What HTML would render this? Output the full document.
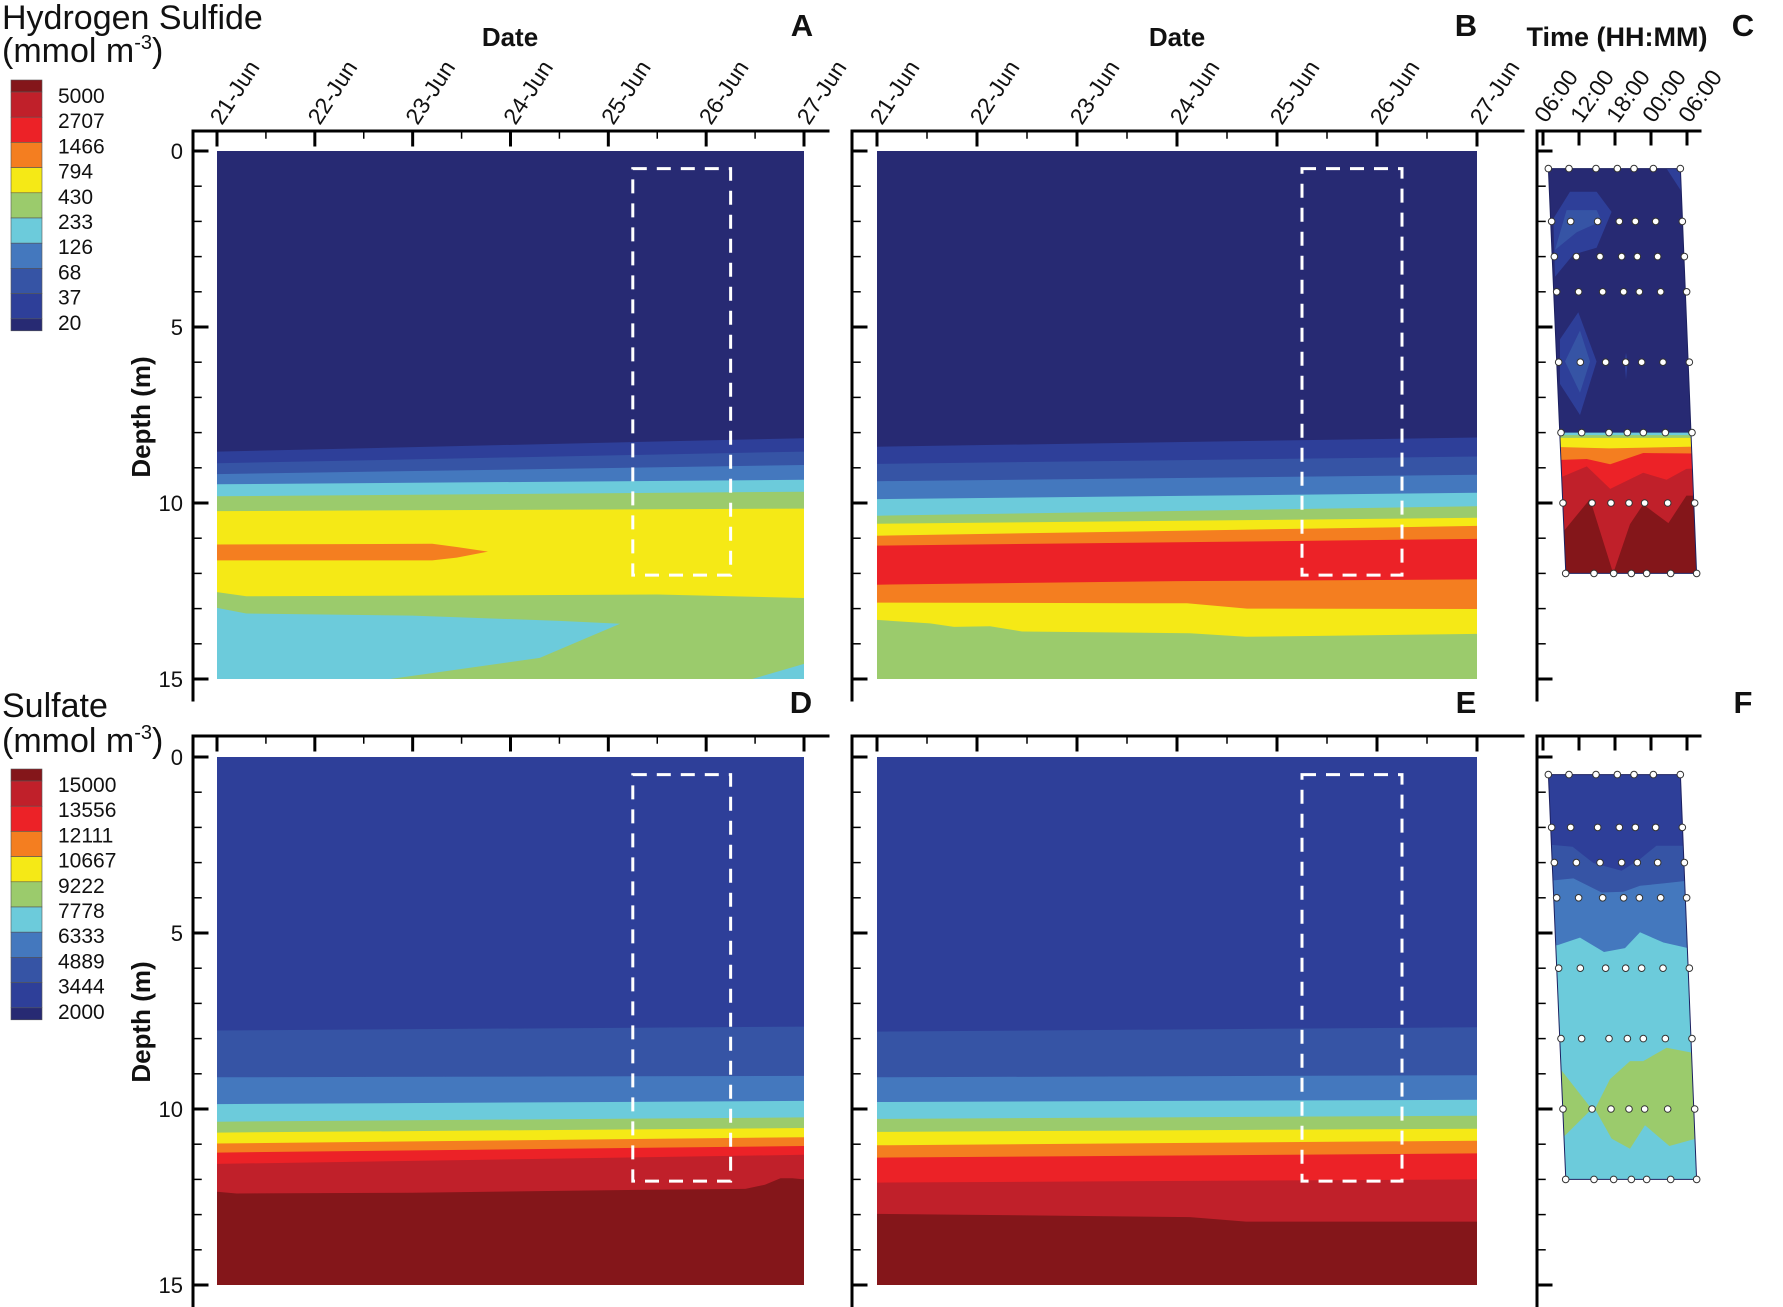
<!DOCTYPE html>
<html><head><meta charset="utf-8"><style>
body{margin:0;background:#fff}
svg{display:block}
text{font-family:"Liberation Sans",Arial,sans-serif;fill:#111}
</style></head><body>
<svg id="fig" width="1783" height="1307" viewBox="0 0 1783 1307" xmlns="http://www.w3.org/2000/svg">
<g id="legends">
<text x="2" y="29" font-size="34">Hydrogen Sulfide</text>
<text x="2" y="62" font-size="34">(mmol m<tspan font-size="20" dy="-13">-3</tspan><tspan dy="13">)</tspan></text>
<text x="2" y="717" font-size="34">Sulfate</text>
<text x="2" y="752" font-size="34">(mmol m<tspan font-size="20" dy="-13">-3</tspan><tspan dy="13">)</tspan></text>
</g>
<g id="plots"></g>
<g id="axes"></g>
</svg>
<script>
// ---------- data ----------
const dateLabels=["21-Jun","22-Jun","23-Jun","24-Jun","25-Jun","26-Jun","27-Jun"];
const timeLabels=["06:00","12:00","18:00","00:00","06:00"];
const depthLabels=[0,5,10,15];
const h2sLevels=["5000","2707","1466","794","430","233","126","68","37","20"];
const so4Levels=["15000","13556","12111","10667","9222","7778","6333","4889","3444","2000"];
const colorScale=["#84161a","#c0202a","#ec2227","#f47e20","#f5e916","#9bcb6c","#6ccbdb","#4478be","#3654a5","#2e3f99","#272a73"];
const aBounds=[
 [[0,8.54],[6,8.16]],[[0,8.87],[6,8.54]],[[0,9.18],[6,8.92]],[[0,9.47],[6,9.34]],
 [[0,9.81],[6,9.68]],[[0,10.23],[6,10.16]],[[0,12.53],[0.3,12.65],[3,12.62],[4.5,12.6],[6,12.7]]];
const aColors=["#272a73","#2e3f99","#3654a5","#4478be","#6ccbdb","#9bcb6c","#f5e916","#9bcb6c"];
const aCyanWedge=[[0,12.98],[0.3,13.14],[2,13.2],[3.5,13.35],[4.12,13.43],[3.3,14.4],[1.77,15],[0,15]];
const aCyanCorner=[[5.47,15],[6,14.57],[6,15]];
const aOrangeBlob=[[0,11.18],[2.2,11.16],[2.45,11.25],[2.77,11.38],[2.45,11.55],[2.2,11.63],[0,11.63]];
const bBounds=[
 [[0,8.40],[6,8.14]],[[0,8.89],[6,8.68]],[[0,9.38],[6,9.2]],[[0,9.89],[6,9.71]],
 [[0,10.36],[6,10.09]],[[0,10.59],[6,10.42]],[[0,10.93],[6,10.65]],[[0,11.21],[6,11.02]],
 [[0,12.32],[3,12.22],[6,12.17]],[[0,12.83],[3.1,12.85],[3.7,13.0],[6,13.01]],
 [[0,13.32],[0.53,13.42],[0.77,13.52],[1.13,13.5],[1.45,13.65],[3.13,13.7],[3.69,13.8],[6,13.72]]];
const bColors=["#272a73","#2e3f99","#3654a5","#4478be","#6ccbdb","#9bcb6c","#f5e916","#f47e20","#ec2227","#f47e20","#f5e916","#9bcb6c"];
const dBounds=[
 [[0,7.77],[6,7.66]],[[0,9.1],[6,9.06]],[[0,9.86],[6,9.77]],[[0,10.36],[6,10.24]],
 [[0,10.67],[6,10.54]],[[0,10.98],[6,10.8]],[[0,11.24],[6,11.05]],[[0,11.56],[6,11.3]],
 [[0,12.35],[0.2,12.4],[2,12.38],[4.2,12.3],[5.4,12.27],[5.6,12.15],[5.76,11.97],[5.88,11.97],[6,12.0]]];
const eBounds=[
 [[0,7.8],[6,7.68]],[[0,9.1],[6,9.04]],[[0,9.8],[6,9.74]],[[0,10.28],[6,10.19]],
 [[0,10.65],[6,10.56]],[[0,11.03],[6,10.9]],[[0,11.38],[6,11.26]],[[0,12.09],[6,12.0]],
 [[0,12.98],[0.73,13.0],[3.13,13.07],[3.69,13.2],[6,13.2]]];
const deColors=["#2e3f99","#3654a5","#4478be","#6ccbdb","#9bcb6c","#f5e916","#f47e20","#ec2227","#c0202a","#84161a"];
const boxDays=[4.25,5.25]; const boxDepths=[0.5,12.05];
const castRegion=[[0.9,0.5],[22.9,0.5],[25.6,12],[3.8,12]];
const sampleDepths=[0.5,2,3,4,6,8,10,12];
const sampleHours=[
 [0.89,4.33,8.83,12.39,15.17,18.39,22.89],[1.44,4.61,9.11,12.72,15.39,18.78,23.22],
 [1.89,5.56,9.5,13.11,15.72,19.11,23.56],[2.28,5.94,9.94,13.44,16.06,19.61,23.94],
 [2.61,6.22,10.44,13.78,16.44,20,24.39],[3,6.44,11,14.06,16.72,20.39,24.83],
 [3.33,8.17,11.33,14.33,16.94,20.78,25.28],[3.78,8.5,11.78,14.72,17.28,21.28,25.61]];
const cPatchOuter=[[1.72,1.92],[4.5,1.16],[8.94,1.16],[11.44,1.73],[8.94,2.75],[5.06,2.94],[2.0,3.57]];
const cPatchInner=[[3.94,1.68],[8.94,1.68],[9.78,1.99],[5.61,2.31],[2.0,2.81]];
const cDiamondOuter=[[2.83,5.35],[5.89,4.58],[8.94,5.98],[6.17,7.5],[2.83,6.62]];
const cDiamondInner=[[3.67,5.98],[6.17,5.1],[7.83,5.98],[6.17,6.87]];
const cSliver=[[13.83,5.73],[14.1,6.0],[13.83,6.49],[13.6,6.0]];
const cCorner=[[20.6,0.5],[22.9,0.5],[23.1,1.16]];
const cBounds=[
 [[-2,8.0],[28,8.0]],[[-2,8.07],[28,8.07]],[[-2,8.15],[28,8.15]],
 [[-2,8.39],[11,8.45],[28,8.39]],
 [[-2,8.8],[7.3,8.75],[11.2,8.9],[16.7,8.58],[28,8.6]],
 [[-2,9.3],[2.8,9.28],[7.3,8.96],[11.2,9.6],[16.7,9.14],[20.6,9.34],[23.9,9.03],[28,9.0]]];
const cColors=["#6ccbdb","#9bcb6c","#f5e916","#f47e20","#ec2227","#c0202a"];
const cDarkRed=[[-2,11.0],[2.83,10.93],[7.83,9.89],[11.7,12.0],[14.5,10.6],[16.7,10.04],[20.9,10.57],[23.9,9.79],[28,9.79],[28,13],[-2,13]];
const fBounds=[
 [[-2,2.5],[1.72,2.5],[4.94,2.55],[8.39,3.01],[13.1,3.23],[16.17,2.9],[18.9,2.52],[23.7,2.52],[28,2.52]],
 [[-2,3.5],[2.0,3.5],[5.06,3.45],[9.78,3.85],[13.4,3.83],[16.17,3.66],[20.06,3.59],[23.9,3.52],[28,3.52]],
 [[-2,5.35],[2.39,5.35],[6.17,5.13],[10.17,5.54],[13.67,5.43],[16.17,4.98],[20.06,5.27],[24.2,5.43],[28,5.43]]];
const fColors=["#2e3f99","#3654a5","#4478be","#6ccbdb"];
const fGreenRight=[[8.67,10.0],[11.17,9.15],[14.5,8.64],[16.7,8.64],[20.6,8.26],[25.1,8.41],[25.5,10.84],[21.06,11.05],[17.0,10.46],[14.5,11.13],[11.44,10.84]];
const fGreenLeft=[[3.11,8.91],[8.11,10.0],[3.5,10.78],[0,10.78],[0,8.91]];

// ---------- helpers ----------
const NS="http://www.w3.org/2000/svg";
const plots=document.getElementById('plots'), axes=document.getElementById('axes');
function mk(tag,attrs,parent){const e=document.createElementNS(NS,tag);for(const k in attrs)e.setAttribute(k,attrs[k]);parent.appendChild(e);return e;}
function dayPanel(x0,x1,y0,y1){return {x:d=>x0+(x1-x0)*d/6,y:v=>y0+(y1-y0)*v/15,x0,x1,y0,y1};}
function hourPanel(y0,y1){return {x:h=>1543+h*6,y:v=>y0+(y1-y0)*v/15,y0,y1};}
function pts(P,arr){return arr.map(p=>P.x(p[0]).toFixed(1)+','+P.y(p[1]).toFixed(1)).join(' ');}
function poly(P,arr,fill,parent,name){const e=mk('polygon',{points:pts(P,arr),fill:fill},parent);
 
 return e;}
function bands(P,bounds,colors,g,xa,xb,name){
 const r=mk('rect',{x:P.x(xa),y:P.y(0),width:P.x(xb)-P.x(xa),height:P.y(15)-P.y(0),fill:colors[0]},g);
 
 
 bounds.forEach((b,i)=>{const arr=b.concat([[b[b.length-1][0],15],[b[0][0],15]]);poly(P,arr,colors[i+1],g,name+'-band-'+(i+1));});
}
function dashed(P,g,name){const e=mk('rect',{x:P.x(boxDays[0]),y:P.y(boxDepths[0]),width:P.x(boxDays[1])-P.x(boxDays[0]),height:P.y(boxDepths[1])-P.y(boxDepths[0]),fill:'none',stroke:'#fff','stroke-width':3,'stroke-dasharray':'14 10'},g);
 
 }
function line(x1,y1,x2,y2,w,name){const e=mk('line',{x1,y1,x2,y2,stroke:'#000','stroke-width':w,'stroke-linecap':'square'},axes);
 
 }
function txt(x,y,s,attrs,name){const e=mk('text',Object.assign({x,y},attrs),axes);e.textContent=s;
 
 return e;}

// ---------- contour panels ----------
function dayContour(P,bounds,colors,name,extra){
 const g=mk('g',{},plots);
 
 
 bands(P,bounds,colors,g,0,6,name);
 if(extra)extra(g);
 dashed(P,g,name+'-dashed-box');
}
const PA=dayPanel(217,804,151,679), PB=dayPanel(877,1477,151,679), PD=dayPanel(217,804,757,1285), PE=dayPanel(877,1477,757,1285);
const PC=hourPanel(151,679), PF=hourPanel(757,1285);
dayContour(PA,aBounds,aColors,'panel-a-h2s',g=>{poly(PA,aCyanWedge,'#6ccbdb',g,'a-cyan-wedge');poly(PA,aCyanCorner,'#6ccbdb',g,'a-cyan-corner');poly(PA,aOrangeBlob,'#f47e20',g,'a-orange-lens');});
dayContour(PB,bBounds,bColors,'panel-b-h2s');
dayContour(PD,dBounds,deColors,'panel-d-sulfate');
dayContour(PE,eBounds,deColors,'panel-e-sulfate');

function castPanel(P,name,id,draw){
 const cp=mk('clipPath',{id:id},plots);mk('polygon',{points:pts(P,castRegion)},cp);
 const g=mk('g',{'clip-path':'url(#'+id+')'},plots);
 
 
 draw(g);
 const o=mk('polygon',{points:pts(P,castRegion),fill:'none',stroke:'#1c2060','stroke-width':1},plots);
 
 
 sampleDepths.forEach((d,i)=>sampleHours[i].forEach(h=>{const c=mk('circle',{cx:P.x(h),cy:P.y(d),r:3.3,fill:'#fff',stroke:'#333','stroke-width':1},plots);
  
  }));
}
castPanel(PC,'panel-c-h2s','clipC',g=>{
 poly(PC,[[-2,0],[28,0],[28,15],[-2,15]],'#272a73',g,'c-background');
 poly(PC,cPatchOuter,'#2e3f99',g,'c-patch-outer');
 poly(PC,cPatchInner,'#3654a5',g,'c-patch-inner');
 poly(PC,cDiamondOuter,'#2e3f99',g,'c-diamond-outer');
 poly(PC,cDiamondInner,'#3654a5',g,'c-diamond-inner');
 poly(PC,cSliver,'#2e3f99',g,'c-sliver');
 poly(PC,cCorner,'#2e3f99',g,'c-corner');
 cBounds.forEach((b,i)=>poly(PC,b.concat([[28,15],[-2,15]]),cColors[i],g,'c-band-'+i));
 poly(PC,cDarkRed,'#84161a',g,'c-darkred');
});
castPanel(PF,'panel-f-sulfate','clipF',g=>{
 poly(PF,[[-2,0],[28,0],[28,15],[-2,15]],'#2e3f99',g,'f-background');
 fBounds.forEach((b,i)=>poly(PF,b.concat([[28,15],[-2,15]]),fColors[i+1],g,'f-band-'+i));
 poly(PF,fGreenRight,'#9bcb6c',g,'f-green-right');
 poly(PF,fGreenLeft,'#9bcb6c',g,'f-green-left');
});

// ---------- axes ----------
function frame(lx,rx,ty,by,name){line(lx,ty,lx,by,3,name+'-left-axis');line(lx,ty,rx,ty,3,name+'-top-axis');}
function yTicks(lx,P,labels,name){
 for(let d=0;d<=15;d++){const maj=d%5===0;line(lx,P.y(d),lx+(maj?14:8),P.y(d),maj?3:1.5,name+'-ytick');}
 if(labels)depthLabels.forEach(v=>txt(183,P.y(v)+8,String(v),{'font-size':22,'text-anchor':'end'},name+'-ytick-label'));
}
function xTicksDays(P,ty,labels,name){
 for(let i=0;i<=12;i++){const maj=i%2===0;line(P.x(i/2),ty,P.x(i/2),ty+(maj?14:7),maj?3:1.5,name+'-xtick');}
 if(labels)dateLabels.forEach((s,i)=>{const x=P.x(i)+5,y=126;txt(x,y,s,{'font-size':23,transform:'rotate(-57 '+x+' '+y+')'},name+'-date-label');});
}
function xTicksHours(P,ty,labels,name){
 timeLabels.forEach((s,i)=>{const x=P.x(i*6);line(x,ty,x,ty+13,3,name+'-xtick');
  if(labels){const tx=x+3,y=124;txt(tx,y,s,{'font-size':23,transform:'rotate(-55 '+tx+' '+y+')'},name+'-time-label');}});
}
frame(193,828,131,700,'a');frame(193,828,736,1307,'d');
frame(852,1523,131,700,'b');frame(852,1523,736,1307,'e');
frame(1537,1700,131,700,'c');frame(1537,1700,736,1307,'f');
yTicks(193,PA,true,'a');yTicks(193,PD,true,'d');yTicks(852,PB,false,'b');yTicks(852,PE,false,'e');yTicks(1537,PC,false,'c');yTicks(1537,PF,false,'f');
xTicksDays(PA,131,true,'a');xTicksDays(PB,131,true,'b');xTicksDays(PD,736,false,'d');xTicksDays(PE,736,false,'e');
xTicksHours(PC,131,true,'c');xTicksHours(PF,736,false,'f');
txt(510,46,'Date',{'font-size':26,'font-weight':'bold','text-anchor':'middle'},'a-x-axis-title');
txt(1177,46,'Date',{'font-size':26,'font-weight':'bold','text-anchor':'middle'},'b-x-axis-title');
txt(1617,46,'Time (HH:MM)',{'font-size':27,'font-weight':'bold','text-anchor':'middle'},'c-x-axis-title');
[['A',802,36],['B',1466,36],['C',1743,36],['D',801,713],['E',1466,713],['F',1743,713]].forEach(l=>txt(l[1],l[2],l[0],{'font-size':31,'font-weight':'bold','text-anchor':'middle'},'panel-label-'+l[0].toLowerCase()));
txt(150,417,'Depth (m)',{'font-size':26,'font-weight':'bold','text-anchor':'middle',transform:'rotate(-90 150 417)'},'a-y-axis-title');
txt(150,1022,'Depth (m)',{'font-size':26,'font-weight':'bold','text-anchor':'middle',transform:'rotate(-90 150 1022)'},'d-y-axis-title');

// ---------- legends ----------
function legend(top,labels,name){
 const lg=document.getElementById('legends');
 const pitch=25.2, edges=[top,top+12];
 for(let i=1;i<=9;i++)edges.push(top+12+pitch*i);
 edges.push(edges[10]+12);
 colorScale.forEach((c,i)=>{const r=mk('rect',{x:11,y:edges[i],width:31,height:edges[i+1]-edges[i],fill:c,stroke:'#555','stroke-width':0.6},lg);
  
  });
 labels.forEach((s,i)=>{const t=mk('text',{x:58,y:top+16+pitch*i+7,'font-size':21},lg);t.textContent=s;
  
  });
}
legend(80,h2sLevels,'h2s-legend');
legend(769,so4Levels,'so4-legend');
</script>
</body></html>
